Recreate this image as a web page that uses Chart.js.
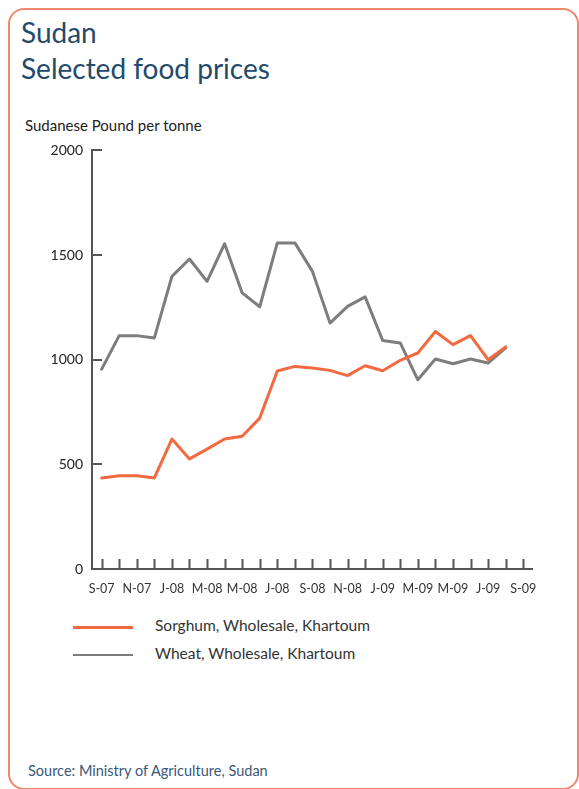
<!DOCTYPE html>
<html>
<head>
<meta charset="utf-8">
<script src="https://cdn.jsdelivr.net/npm/chart.js@4"></script>
<style>
  html, body { margin: 0; padding: 0; background: #fff; }
  body { width: 579px; height: 789px; position: relative; overflow: hidden; font-family: Lato, sans-serif; }
  .frame { position: absolute; left: 8px; top: 8px; width: 571px; height: 782px; border: 2px solid #f0876a; border-radius: 16px; box-sizing: border-box; }
  .title { position: absolute; left: 21px; color: #244a6b; font-size: 28px; line-height: 28px; }
  .ylabel { position: absolute; left: 25px; top: 116px; font-size: 15px; color: #222; }
  .legend { position: absolute; left: 73px; font-size: 15.5px; color: #333; }
  .legend span { display: inline-block; width: 60px; margin-right: 22px; vertical-align: middle; }
  .source { position: absolute; left: 28px; top: 762px; font-size: 14.5px; color: #3a5878; }
  #wrap { position: absolute; left: 0; top: 133px; width: 579px; height: 477px; }
</style>
</head>
<body>
<div class="frame"></div>
<div class="title" style="top:18px">Sudan</div>
<div class="title" style="top:54px">Selected food prices</div>
<div class="ylabel">Sudanese Pound per tonne</div>
<div id="wrap"><canvas id="chart"></canvas></div>
<div class="legend" style="top:616px"><span style="border-top:3px solid #f26a3f"></span>Sorghum, Wholesale, Khartoum</div>
<div class="legend" style="top:644px"><span style="border-top:2px solid #7d7d7d"></span>Wheat, Wholesale, Khartoum</div>
<div class="source">Source: Ministry of Agriculture, Sudan</div>

<script>
// Monthly ticks, Sep 2007 - Sep 2009 (label every other month)
const months = ['S-07', 'O-07', 'N-07', 'D-07', 'J-08', 'F-08', 'M-08', 'A-08', 'M-08', 'J-08', 'J-08', 'A-08',
  'S-08', 'O-08', 'N-08', 'D-08', 'J-09', 'F-09', 'M-09', 'A-09', 'M-09', 'J-09', 'J-09', 'A-09', 'S-09'];

// Sudanese Pound per tonne
const sorghum = [435, 446, 446, 435, 621, 526, 573, 621, 634, 721, 946, 968,
  960, 949, 924, 971, 947, 997, 1032, 1135, 1072, 1115, 1000, 1061];
const wheat = [955, 1115, 1115, 1104, 1398, 1481, 1374, 1554, 1319, 1253, 1558, 1558,
  1422, 1175, 1255, 1300, 1092, 1080, 904, 1003, 981, 1003, 984, 1056];

const yTicks = [0, 500, 1000, 1500, 2000];

const toPoints = arr => arr.map((v, i) => ({ x: i, y: v }));

// draw small tick marks pointing into the plot, like the print version
const innerTicks = {
  id: 'innerTicks',
  afterDraw(chart) {
    const ctx = chart.ctx;
    const xs = chart.scales.x, ys = chart.scales.y;
    const area = chart.chartArea;
    ctx.save();
    ctx.strokeStyle = '#555';
    ctx.lineWidth = 2;
    ctx.beginPath();
    months.forEach((m, i) => {
      const px = Math.round(xs.getPixelForValue(i)) + 0.5;
      ctx.moveTo(px, area.bottom);
      ctx.lineTo(px, area.bottom - 10);
    });
    yTicks.forEach(v => {
      if (v === 0) return;
      const py = Math.round(ys.getPixelForValue(v));
      ctx.moveTo(area.left, py);
      ctx.lineTo(area.left + 10, py);
    });
    ctx.stroke();
    ctx.restore();
  }
};

new Chart(document.getElementById('chart'), {
  type: 'line',
  data: {
    datasets: [
      { label: 'Sorghum, Wholesale, Khartoum', data: toPoints(sorghum), borderColor: '#f26a3f', borderWidth: 3 },
      { label: 'Wheat, Wholesale, Khartoum', data: toPoints(wheat), borderColor: '#7d7d7d', borderWidth: 3 }
    ]
  },
  options: {
    responsive: true,
    maintainAspectRatio: false,
    animation: false,
    layout: { padding: { top: 4, right: 47, left: 0, bottom: 0 } },
    elements: {
      point: { radius: 0 },
      line: { tension: 0, borderJoinStyle: 'round', borderCapStyle: 'round' }
    },
    plugins: { legend: { display: false }, tooltip: { enabled: false } },
    scales: {
      x: {
        type: 'linear',
        min: -0.55,
        max: 24.5,
        afterFit(scale) { scale.height = 41; },
        afterBuildTicks(scale) { scale.ticks = months.map((m, i) => ({ value: i })); },
        ticks: {
          autoSkip: false,
          maxRotation: 0,
          padding: 12,
          color: '#333',
          font: { family: 'Lato', size: 12.5 },
          callback: v => (v % 2 === 0 ? months[v] : '')
        },
        grid: { display: false, drawTicks: false },
        border: { display: true, color: '#555', width: 2 }
      },
      y: {
        min: 0,
        max: 2000,
        afterFit(scale) { scale.width = 92; },
        afterBuildTicks(scale) { scale.ticks = yTicks.map(v => ({ value: v })); },
        ticks: {
          padding: 9,
          color: '#222',
          font: { family: 'Lato', size: 14 },
          callback: v => String(v)
        },
        grid: { display: false, drawTicks: false },
        border: { display: true, color: '#555', width: 2 }
      }
    }
  },
  plugins: [innerTicks]
});
</script>
</body>
</html>
